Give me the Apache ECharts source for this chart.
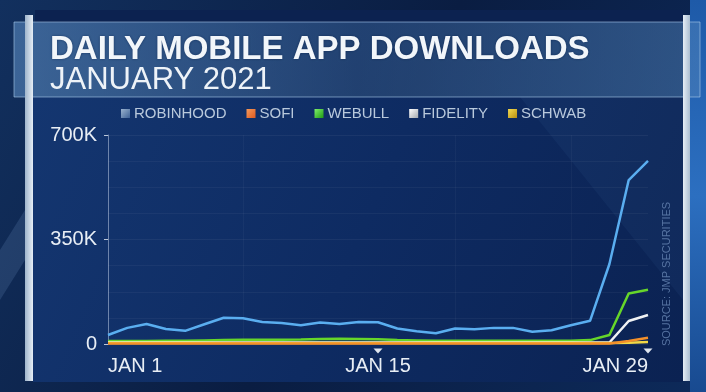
<!DOCTYPE html>
<html>
<head>
<meta charset="utf-8">
<script src="https://cdn.jsdelivr.net/npm/echarts@6/dist/echarts.min.js"></script>
<style>html,body{margin:0;padding:0;background:#0b214a;}#c{width:706px;height:392px;}</style>
</head>
<body>
<div id="c"></div>
<script>
const days = ['JAN 1','JAN 2','JAN 3','JAN 4','JAN 5','JAN 6','JAN 7','JAN 8','JAN 9','JAN 10','JAN 11','JAN 12','JAN 13','JAN 14','JAN 15','JAN 16','JAN 17','JAN 18','JAN 19','JAN 20','JAN 21','JAN 22','JAN 23','JAN 24','JAN 25','JAN 26','JAN 27','JAN 28','JAN 29'];
const robinhood = [30000,54000,67000,50000,44000,66000,88000,86000,74000,70000,63000,72000,67000,74000,73000,52000,43000,36000,52000,49000,54000,54000,41000,46000,63000,78000,268000,549000,613000];
const sofi = [2000,2000,2000,2000,2000,2000,2000,2000,2000,2000,2000,2000,2000,2000,2000,2000,2000,2000,2000,2000,2000,2000,2000,2000,2000,2000,2000,10000,21000];
const webull = [10000,10000,10000,11000,11000,12000,13000,14000,14000,14000,15000,17000,18000,17000,16000,13000,12000,11000,11000,11000,11000,11000,11000,11000,11000,13000,30000,169000,182000];
const fidelity = [5000,5000,5000,5000,5000,5000,5000,5000,5000,5000,5000,5000,5000,5000,5000,5000,5000,5000,5000,5000,5000,5000,5000,5000,5000,5000,5000,77000,97000];
const schwab = [3000,3000,3000,3000,3000,3000,3000,3000,3000,3000,3000,3000,3000,3000,3000,3000,3000,3000,3000,3000,3000,3000,3000,3000,3000,3000,3000,4000,7000];
const yTicks = [0, 350000, 700000];
const shownX = [0, 14, 28];

const chart = echarts.init(document.getElementById('c'), null, {renderer:'canvas'});
const lin = (x1,y1,x2,y2,stops) => new echarts.graphic.LinearGradient(x1,y1,x2,y2,stops.map((c,i)=>({offset:i/(stops.length-1),color:c})));
const sq = (a,b) => lin(0,0,1,1,[a,b]);

const option = {
  backgroundColor: lin(0,0,1,1,['#12305e','#0a1d42','#0d2a5a']),
  animation:false,
  graphic:[
    {type:'polygon', z:-10, shape:{points:[[0,250],[25,210],[25,260],[0,300]]}, style:{fill:'rgba(120,160,210,0.18)'}},
    {type:'polygon', z:-10, shape:{points:[[690,0],[706,0],[706,392],[690,392]]}, style:{fill:lin(0,0,0,1,['#1e5aa8','#2c6fc0','#184a90'])}},
    {type:'rect', z:-9, shape:{x:33,y:97,width:650,height:285}, style:{fill:lin(0,0,1,1,['#143670','#0e2b62','#0b2252'])}},
    {type:'polygon', z:-8, shape:{points:[[520,97],[683,97],[683,300]]}, style:{fill:'rgba(90,140,200,0.07)'}},
    {type:'rect', z:-9, shape:{x:35,y:10,width:648,height:13}, style:{fill:'#0c2250'}},
    {type:'rect', z:-7, shape:{x:14,y:22,width:686,height:75}, style:{fill:lin(0,0,1,0,['rgba(95,145,200,0.55)','rgba(60,105,165,0.45)','rgba(80,130,185,0.5)']), stroke:'rgba(170,205,235,0.6)', lineWidth:1}},
    {type:'rect', z:-6, shape:{x:25,y:15,width:8,height:366}, style:{fill:lin(1,0,0,0,['#e6eef6','#9fb5cc'])}},
    {type:'rect', z:-6, shape:{x:683,y:15,width:7,height:366}, style:{fill:lin(1,0,0,0,['#aabdd0','#e6eef6'])}},
    {type:'text', z:5, x:667, y:274, rotation:Math.PI/2, style:{text:'SOURCE: JMP SECURITIES', fill:'rgba(110,140,185,0.75)', font:'11px "Liberation Sans", Arial, sans-serif', align:'center', verticalAlign:'middle'}}
  ],
  title:[
    {text:'DAILY MOBILE APP DOWNLOADS', left:50, top:33, padding:0, textStyle:{color:'#f2f6fa', fontSize:33, fontWeight:'bold', fontFamily:'"Liberation Sans", Arial, sans-serif', textShadowColor:'rgba(0,20,60,0.5)', textShadowBlur:3}},
    {text:'JANUARY 2021', left:50, top:65, padding:0, textStyle:{color:'#eef3f8', fontSize:31, fontWeight:'normal', fontFamily:'"Liberation Sans", Arial, sans-serif'}}
  ],
  legend:{
    left:116, top:101, itemWidth:9, itemHeight:9, itemGap:20, icon:'rect',
    textStyle:{color:'#b9c9dc', fontSize:15, fontFamily:'"Liberation Sans", Arial, sans-serif', padding:[0,0,0,-1]},
    data:[
      {name:'ROBINHOOD', itemStyle:{color:sq('#9bb3cf','#3d6196')}},
      {name:'SOFI', itemStyle:{color:sq('#f59a5a','#e05a20')}},
      {name:'WEBULL', itemStyle:{color:sq('#7ef06a','#1f9a14')}},
      {name:'FIDELITY', itemStyle:{color:sq('#ffffff','#a5aab0')}},
      {name:'SCHWAB', itemStyle:{color:sq('#f5dc50','#b88e10')}}
    ]
  },
  grid:{left:108, right:58, top:135, bottom:48},
  xAxis:{
    type:'category', data:days, boundaryGap:false,
    axisLine:{show:false}, axisTick:{show:false},
    axisLabel:{interval:(i)=>shownX.indexOf(i)>=0, color:'#e8eef5', fontSize:20, margin:12, fontFamily:'"Liberation Sans", Arial, sans-serif', alignMinLabel:'left', alignMaxLabel:'right'},
    splitLine:{show:true, interval:(i)=>[7,18,24].indexOf(i)>=0, lineStyle:{color:'rgba(255,255,255,0.035)'}}
  },
  yAxis:{
    type:'value', min:0, max:700000, interval:350000,
    axisLine:{show:true, lineStyle:{color:'rgba(185,200,225,0.55)', width:1}},
    axisTick:{show:true, length:4, lineStyle:{color:'rgba(230,236,245,0.8)'}},
    axisLabel:{color:'#e8eef5', fontSize:20, margin:11, fontFamily:'"Liberation Sans", Arial, sans-serif', formatter:(v)=> yTicks.indexOf(v)<0 ? '' : (v===0?'0':(v/1000)+'K')},
    splitLine:{show:true, lineStyle:{color:'rgba(255,255,255,0.05)'}},
    minorTick:{show:false, splitNumber:4},
    minorSplitLine:{show:true, lineStyle:{color:'rgba(255,255,255,0.045)'}}
  },
  series:[
    {name:'ROBINHOOD', type:'line', data:robinhood, symbol:'none', lineStyle:{color:'#5aaef0', width:2.5}, itemStyle:{color:'#5aaef0'}, z:5},
    {name:'WEBULL', type:'line', data:webull, symbol:'none', lineStyle:{color:'#66d62a', width:2.5}, itemStyle:{color:'#66d62a'}, z:4},
    {name:'FIDELITY', type:'line', data:fidelity, symbol:'none', lineStyle:{color:'#f0f2f4', width:2.5}, itemStyle:{color:'#f0f2f4'}, z:4},
    {name:'SCHWAB', type:'line', data:schwab, symbol:'none', lineStyle:{color:'#f2d846', width:2.5}, itemStyle:{color:'#f2d846'}, z:5,
      markPoint:{symbol:'triangle', symbolRotate:180, symbolSize:[9,5], symbolOffset:[0,7], label:{show:false}, itemStyle:{color:'#dfe6ef'}, silent:true,
        data:[{coord:[14,0]},{coord:[28,0]}]}},
    {name:'SOFI', type:'line', data:sofi, symbol:'none', lineStyle:{color:'#f3902a', width:2.5}, itemStyle:{color:'#f3902a'}, z:6}
  ]
};
chart.setOption(option);
</script>
</body>
</html>
